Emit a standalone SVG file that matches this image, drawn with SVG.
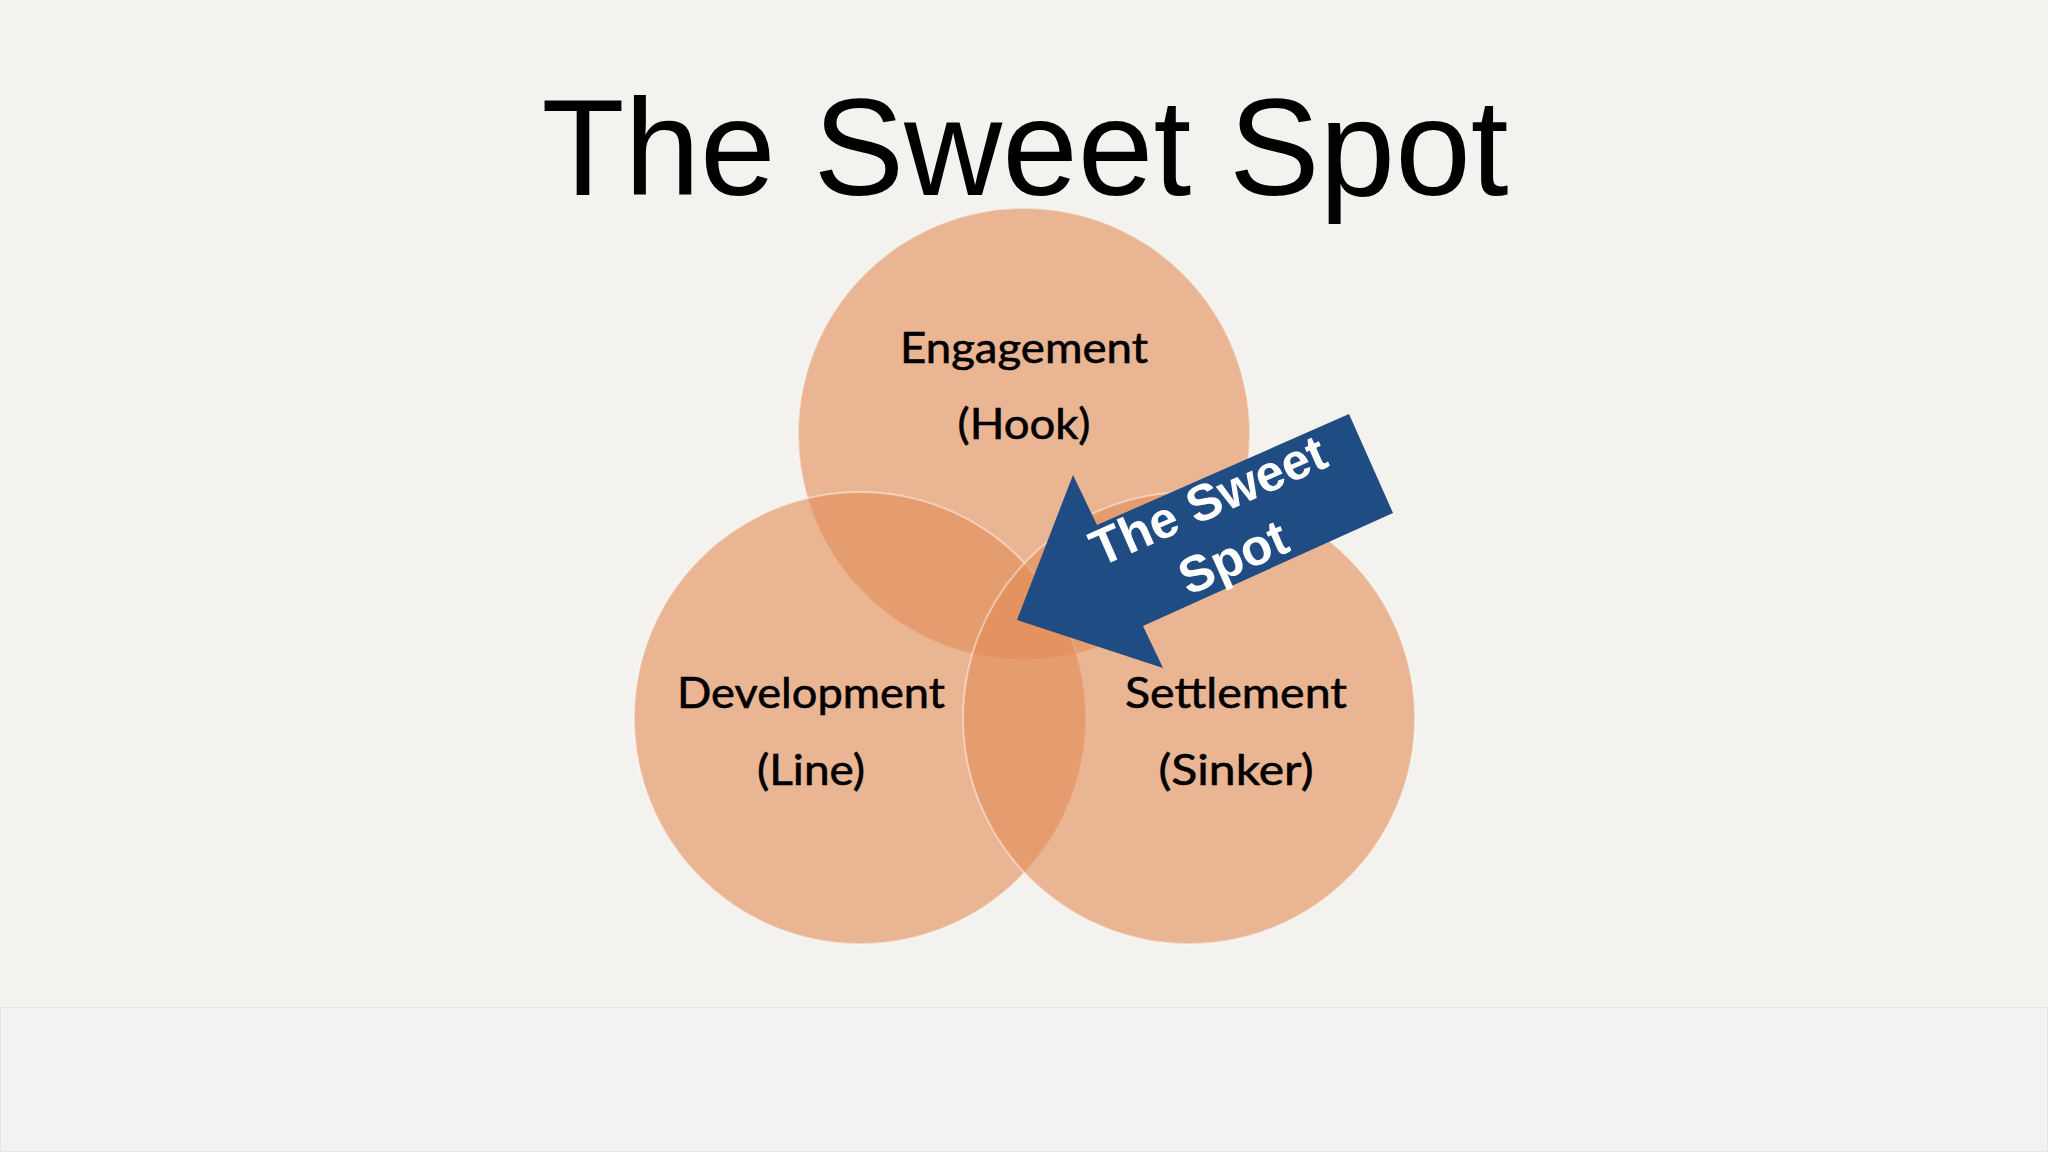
<svg xmlns="http://www.w3.org/2000/svg" width="2048" height="1152" viewBox="0 0 2048 1152">
  <style>
    .title { font-family: "Liberation Sans", Arial, sans-serif; font-size: 137px; fill: #000; }
    .circle { fill: #e28c56; fill-opacity: 0.6; stroke: #ffffff; stroke-opacity: 0.45; stroke-width: 2; }
    .label { font-family: Lato, "Open Sans", sans-serif; font-size: 43px; fill: #000; stroke: #000; stroke-width: 0.6; text-anchor: middle; }
    .arrow { fill: #1f4c82; }
    .arrowtext { font-family: "Liberation Sans", Arial, sans-serif; font-weight: bold; font-size: 51px; fill: #ffffff; text-anchor: middle; }
  </style>
  <rect x="0" y="0" width="2048" height="1152" fill="#f3f2ee"/>
  <rect x="0.5" y="1007.5" width="2047" height="144" fill="#f2f2f2" stroke="#e6e6e6" stroke-width="1"/>
  <text class="title" x="1025" y="195" text-anchor="middle" textLength="967" lengthAdjust="spacingAndGlyphs">The Sweet Spot</text>

  <g id="engagement">
    <circle class="circle" cx="1024" cy="434" r="226"/>
  </g>
  <g id="development">
    <circle class="circle" cx="860" cy="718" r="226"/>
  </g>
  <g id="settlement">
    <circle class="circle" cx="1189" cy="718" r="226"/>
  </g>

  <g id="labels">
    <text class="label" x="1024" y="363" textLength="248" lengthAdjust="spacingAndGlyphs">Engagement</text>
    <text class="label" x="1024" y="439" textLength="133" lengthAdjust="spacingAndGlyphs">(Hook)</text>
    <text class="label" x="811" y="708" textLength="268" lengthAdjust="spacingAndGlyphs">Development</text>
    <text class="label" x="811" y="785" textLength="108" lengthAdjust="spacingAndGlyphs">(Line)</text>
    <text class="label" x="1236" y="708" textLength="222" lengthAdjust="spacingAndGlyphs">Settlement</text>
    <text class="label" x="1236" y="785" textLength="155" lengthAdjust="spacingAndGlyphs">(Sinker)</text>
  </g>

  <g id="connectors">
    <g id="sweet-spot-arrow">
      <polygon class="arrow" points="1017,620 1073,475 1097,525 1349,414 1393,513 1143,626 1163,668"/>
      <g transform="translate(1222,532) rotate(-23.8)">
        <text class="arrowtext" x="0" y="-17">The Sweet</text>
        <text class="arrowtext" x="0" y="45">Spot</text>
      </g>
    </g>
  </g>
</svg>
